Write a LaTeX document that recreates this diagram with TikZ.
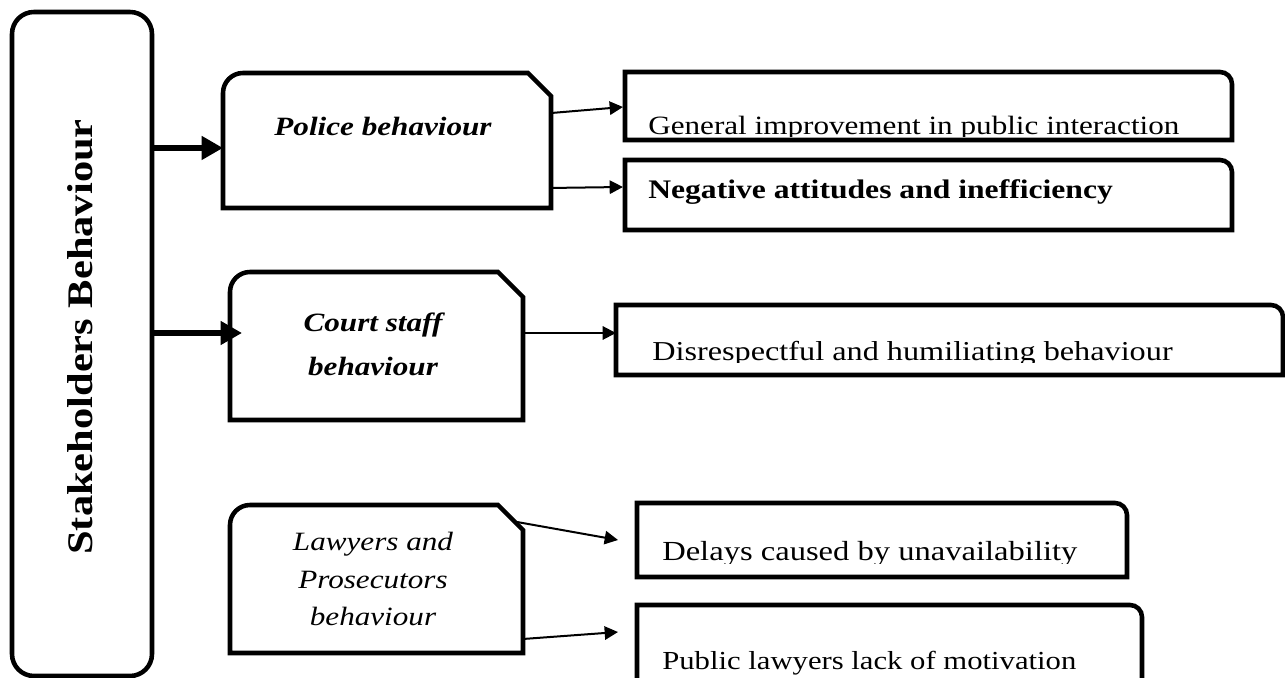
\documentclass[tikz,border=0pt]{standalone}
\usepackage{fontspec}
\setmainfont{Liberation Serif}[FakeStretch=1.18]
\usetikzlibrary{arrows.meta,calc}

\begin{document}
\begin{tikzpicture}[x=0.75pt,y=0.75pt,
  frame/.style={inner sep=0pt,outer sep=0pt},
  boxline/.style={line width=3.4pt,line join=miter},
  thinarrow/.style={line width=1.5pt,-{Triangle[length=10pt,width=10pt]}},
  thickarrow/.style={line width=5pt,-{Triangle[length=16pt,width=17pt]}},
  itemtext/.style={font=\fontsize{#1}{23}\selectfont,inner sep=0pt,anchor=base west},
  bolditemtext/.style={font=\fontsize{#1}{23}\selectfont\bfseries,inner sep=0pt,anchor=base west},
  headtext/.style={font=\fontsize{19.8}{23}\selectfont\bfseries\itshape,inner sep=0pt,align=center}]

\useasboundingbox (0,0) rectangle (1285,678);
\clip (0,0) rectangle (1285,678);

% main column box
\node[frame,draw,boxline,rounded corners=16.5pt,minimum width=105pt,minimum height=498pt] (stake) at (82,334) {};
\node[font=\fontsize{27}{30}\selectfont\bfseries,rotate=90,inner sep=0pt] (staketext) at (80,341) {Stakeholders Behaviour};

% category boxes (rounded top-left, chamfered top-right)
\node[frame,minimum width=246pt,minimum height=101.25pt] (police) at (387,537.5) {};
\node[frame,minimum width=219.75pt,minimum height=111pt] (court) at (376.5,332) {};
\node[frame,minimum width=219.75pt,minimum height=111pt] (lawyers) at (376.5,99) {};

\draw[boxline] (police.south west) -- ([yshift=-15pt]police.north west) arc(180:90:15pt)
  -- ([xshift=-17.25pt]police.north east) -- ([yshift=-17.25pt]police.north east) -- (police.south east) -- cycle;
\draw[boxline] (court.south west) -- ([yshift=-15pt]court.north west) arc(180:90:15pt)
  -- ([xshift=-18.75pt]court.north east) -- ([yshift=-18.75pt]court.north east) -- (court.south east) -- cycle;
\draw[boxline] (lawyers.south west) -- ([yshift=-15pt]lawyers.north west) arc(180:90:15pt)
  -- ([xshift=-18.75pt]lawyers.north east) -- ([yshift=-18.75pt]lawyers.north east) -- (lawyers.south east) -- cycle;

\node[headtext] (policetext) at (383,551) {Police behaviour};
\node[headtext,font=\fontsize{19.8}{33}\selectfont\bfseries\itshape] (courttext) at (373,334) {Court staff\\behaviour};
\node[headtext,font=\fontsize{19.8}{28}\selectfont\itshape] (lawyerstext) at (373,99) {Lawyers and\\Prosecutors\\behaviour};

% outcome boxes (rounded top-right corner)
\node[frame,minimum width=455.25pt,minimum height=51pt] (general) at (928.5,572) {};
\node[frame,minimum width=455.25pt,minimum height=52.5pt] (negative) at (928.5,483) {};
\node[frame,minimum width=500.25pt,minimum height=52.5pt] (disresp) at (949.5,338) {};
\node[frame,minimum width=367.5pt,minimum height=55.5pt] (delays) at (882,138) {};
\node[frame,minimum width=378.75pt,minimum height=63.75pt] (public) at (889.5,30.5) {};

\foreach \b in {general,negative,disresp,delays,public}{
  \draw[boxline] (\b.south west) -- (\b.north west) -- ([xshift=-9pt]\b.north east)
    arc(90:0:9pt) -- (\b.south east) -- cycle;
}

% texts whose lower part is cut off above the box edge
\begin{scope}
  \clip (general.north west) rectangle (1230,541.5);
  \node[itemtext=19.8] (generaltext) at (648,543.5) {General improvement in public interaction};
\end{scope}
\node[bolditemtext=20.1] (negativetext) at (648,479) {Negative attitudes and inefficiency};
\begin{scope}
  \clip (disresp.north west) rectangle (1281,315);
  \node[itemtext=20.5] (disresptext) at (652,317) {Disrespectful and humiliating behaviour};
\end{scope}
\begin{scope}
  \clip (delays.north west) rectangle (1125,114);
  \node[itemtext=20.7] (delaystext) at (662,117) {Delays caused by unavailability};
\end{scope}
\node[itemtext=19.5] (publictext) at (662,8) {Public lawyers lack of motivation};

% thick connectors from the main column
\coordinate (pin) at ([yshift=-5.6pt]police.west);
\coordinate (cin) at ([shift={(9pt,9.75pt)}]court.west);
\draw[thickarrow] (stake.east |- pin) -- (pin);
\draw[thickarrow] (stake.east |- cin) -- (cin);

% thin connectors to the outcomes
\draw[thinarrow] ([yshift=20.6pt]police.east) -- ([shift={(-1.5pt,-0.75pt)}]general.west);
\draw[thinarrow] ([yshift=-35.6pt]police.east) -- ([shift={(-1.5pt,6pt)}]negative.west);
\coordinate (cd) at ([yshift=5.25pt]disresp.west);
\draw[thinarrow] (court.east |- cd) -- (cd);
\draw[thinarrow] ([shift={(-4.5pt,-12.75pt)}]lawyers.north east) -- ([xshift=-14.25pt]delays.west);
\draw[thinarrow] ([yshift=-45pt]lawyers.east) -- ([shift={(-14.25pt,11.6pt)}]public.west);

\end{tikzpicture}
\end{document}
